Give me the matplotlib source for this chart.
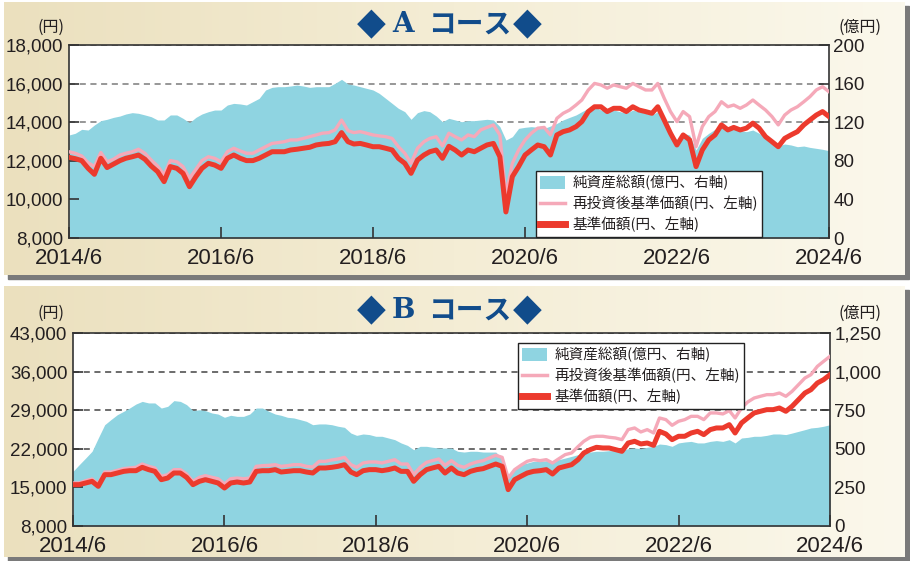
import numpy as np
import pandas as pd
import matplotlib
matplotlib.use('Agg')
import matplotlib.pyplot as plt
from matplotlib.patches import Rectangle, Patch
from matplotlib.lines import Line2D
from matplotlib.colors import LinearSegmentedColormap
from matplotlib.font_manager import FontProperties
from matplotlib import font_manager as fm

W, H = 910, 561

# ---------------- data ----------------
dates = pd.date_range('2014-06-01', '2024-06-01', freq='MS')
xtick_dates = ['2014-06-01', '2016-06-01', '2018-06-01', '2020-06-01', '2022-06-01', '2024-06-01']
xtick_labels = ['2014/6', '2016/6', '2018/6', '2020/6', '2022/6', '2024/6']

a_price = [12180, 12110, 12010, 11610, 11300, 12130, 11650, 11830, 12010, 12130,
           12210, 12300, 12080, 11730, 11440, 10920, 11700, 11610, 11350, 10660,
           11180, 11610, 11870, 11780, 11610, 12130, 12300, 12130, 12010, 12010,
           12130, 12300, 12470, 12470, 12470, 12560, 12600, 12650, 12700, 12820,
           12870, 12900, 12990, 13460, 12990, 12870, 12900, 12820, 12730, 12730,
           12650, 12560, 12130, 11870, 11350, 12040, 12300, 12470, 12560, 12130,
           12750, 12560, 12300, 12560, 12470, 12650, 12820, 12900, 12210, 9350,
           11180, 11700, 12300, 12560, 12820, 12730, 12300, 13340, 13510, 13600,
           13770, 14030, 14550, 14800, 14800, 14550, 14720, 14720, 14550, 14800,
           14630, 14550, 14460, 14800, 14110, 13430, 12820, 13340, 13080, 11700,
           12560, 13080, 13340, 13860, 13600, 13730, 13600, 13690, 13950, 13690,
           13250, 12990, 12730, 13160, 13340, 13510, 13860, 14110, 14370, 14550,
           14290]
a_reinv = [12470, 12390, 12250, 11900, 11700, 12430, 11950, 12080, 12300, 12390,
           12470, 12600, 12390, 12040, 11730, 11270, 12010, 11950, 11700, 11090,
           11560, 12010, 12210, 12130, 11950, 12470, 12650, 12510, 12390, 12390,
           12560, 12730, 12900, 12940, 12990, 13080, 13080, 13160, 13250, 13340,
           13430, 13460, 13600, 14110, 13560, 13460, 13510, 13430, 13340, 13290,
           13250, 13160, 12730, 12390, 11870, 12650, 12990, 13160, 13250, 12770,
           13430, 13250, 13080, 13340, 13250, 13600, 13730, 13860, 13340, 10200,
           11870, 12560, 13080, 13430, 13690, 13730, 13340, 14200, 14460, 14630,
           14890, 15150, 15670, 16010, 15930, 15760, 15930, 15840, 15760, 16010,
           15840, 15670, 15670, 16010, 15240, 14550, 14030, 14550, 14290, 12730,
           13770, 14290, 14550, 15060, 14800, 14890, 14720, 14890, 15150, 14890,
           14630, 14290, 13860, 14370, 14630, 14800, 15060, 15320, 15670, 15840,
           15580]
a_nav = [106.7, 108.5, 112.6, 111.9, 117.1, 121.6, 123, 125, 126.4, 128.5,
         129.9, 129.2, 127.5, 125.7, 122.3, 122.3, 127.5, 127.5, 124, 119.5,
         125, 128.5, 130.9, 132.6, 132.6, 137.8, 139.5, 138.9, 137.8, 141.3,
         144.7, 153.4, 156.1, 156.8, 156.8, 157.5, 158.5, 157.5, 156.1, 156.8,
         156.8, 156.8, 160.3, 164.4, 159.6, 158.5, 156.8, 155.1, 153.4, 149.9,
         144.7, 139.5, 134.4, 130.9, 123, 129.9, 132, 130.9, 126.4, 120.5,
         124, 122.3, 120.5, 121.6, 121.6, 122.3, 123, 122.3, 115.4, 101.5,
         105, 113.6, 114.7, 115.4, 114.7, 113.6, 116, 118.8, 122.3, 125,
         127.5, 130.9, 134.4, 136.1, 132.6, 130.9, 132.6, 130.9, 129.2, 132.6,
         130.9, 129.2, 127.5, 130.9, 120.5, 110.2, 101.5, 108.5, 106.7, 91.2,
         103.3, 108.5, 112.6, 117.1, 114.7, 113.6, 111.2, 110.2, 111.9, 108.5,
         105, 99.8, 95.3, 97.4, 96.4, 94.6, 95.3, 93.9, 92.9, 91.9,
         90.5]

b_price = [15500, 15500, 15800, 16100, 15190, 17310, 17310, 17610, 17910, 18030,
           18030, 18640, 18220, 17910, 16400, 16700, 17610, 17610, 16830, 15500,
           16100, 16400, 16100, 15800, 14890, 15800, 15980, 15800, 15980, 17910,
           18030, 18030, 18220, 17790, 17910, 18030, 18030, 17790, 17610, 18520,
           18520, 18640, 18820, 19120, 17790, 17310, 18030, 18220, 18220, 18030,
           18220, 18520, 17910, 17910, 16100, 17310, 18220, 18520, 18820, 17610,
           18520, 17610, 17310, 17910, 18220, 18400, 18820, 19240, 18820, 14590,
           16400, 17010, 17610, 17910, 18030, 18220, 17430, 18520, 18820, 19120,
           20030, 21240, 21850, 22270, 22150, 22150, 21850, 21540, 23050, 23360,
           22880, 23050, 22630, 25170, 24690, 23660, 24270, 24270, 24870, 25170,
           24570, 25480, 25780, 25780, 26380, 24870, 26690, 27590, 28500, 28800,
           29100, 29100, 29400, 28800, 29710, 30910, 32120, 32720, 33930, 34540,
           35440]
b_reinv = [15800, 15800, 16220, 16520, 15620, 17790, 17790, 18090, 18400, 18520,
           18640, 19240, 18820, 18520, 17010, 17310, 18220, 18220, 17430, 16100,
           16830, 17130, 16830, 16580, 15620, 16580, 16700, 16580, 16700, 18820,
           18940, 19000, 19120, 18820, 18940, 19120, 19120, 18820, 18700, 19730,
           19730, 19970, 20150, 20450, 19120, 18640, 19430, 19610, 19610, 19430,
           19730, 20030, 19240, 19240, 17310, 18640, 19550, 19850, 20150, 19000,
           19850, 19000, 18640, 19240, 19610, 19850, 20330, 20820, 20450, 16700,
           18220, 19000, 19730, 20030, 19850, 20030, 19430, 20210, 20940, 21240,
           22390, 23360, 24090, 24270, 24270, 24090, 23960, 23660, 25480, 25780,
           25050, 25480, 24870, 27590, 27290, 26260, 26990, 27290, 27890, 27890,
           27290, 28500, 28500, 28320, 28920, 27590, 29400, 30490, 31210, 31520,
           31820, 31820, 32120, 31520, 32420, 33630, 34840, 35440, 36950, 37860,
           38770]
b_nav = [354, 397, 440, 484, 570, 656, 689, 721, 743, 764,
         790, 807, 797, 797, 764, 775, 812, 807, 786, 747,
         753, 747, 732, 725, 704, 717, 710, 710, 725, 764,
         764, 743, 725, 717, 704, 700, 689, 678, 656, 661,
         661, 656, 646, 639, 602, 587, 596, 592, 581, 581,
         570, 559, 538, 522, 494, 516, 516, 510, 505, 505,
         505, 484, 479, 484, 484, 479, 479, 479, 440, 332,
         365, 397, 408, 419, 419, 423, 419, 430, 440, 451,
         462, 473, 479, 484, 484, 488, 488, 488, 501, 505,
         501, 510, 516, 531, 527, 516, 538, 544, 548, 538,
         538, 548, 553, 548, 559, 538, 570, 574, 581, 581,
         587, 596, 596, 592, 602, 613, 624, 635, 639, 646,
         656]

a_left_ticks = [8000, 10000, 12000, 14000, 16000, 18000]
a_left_labels = ['8,000', '10,000', '12,000', '14,000', '16,000', '18,000']
a_right_ticks = [0, 40, 80, 120, 160, 200]
a_right_labels = ['0', '40', '80', '120', '160', '200']
b_left_ticks = [8000, 15000, 22000, 29000, 36000, 43000]
b_left_labels = ['8,000', '15,000', '22,000', '29,000', '36,000', '43,000']
b_right_ticks = [0, 250, 500, 750, 1000, 1250]
b_right_labels = ['0', '250', '500', '750', '1,000', '1,250']

legend_labels = ['純資産総額(億円、右軸)', '再投資後基準価額(円、左軸)', '基準価額(円、左軸)']

# ---------------- style ----------------
C_FILL = '#8FD4E1'
C_PINK = '#F5A9B9'
C_RED = '#EC3A2D'
C_TITLE = '#114C8B'
C_TEXT = '#231F20'

names = {f.name for f in fm.fontManager.ttflist}
if 'Liberation Sans Narrow' in names:
    YFONT = FontProperties(family='Liberation Sans Narrow', size=16.5)
else:
    YFONT = FontProperties(family='Liberation Sans', size=13.5)
XFONT = FontProperties(family='Liberation Sans', size=16)
JP = 'Noto Sans CJK JP'

fig = plt.figure(figsize=(W / 100, H / 100), dpi=100)
fig.patch.set_facecolor('white')


def P(x, y):
    return x / W, 1 - y / H


# background frames
bg = fig.add_axes([0, 0, 1, 1], zorder=-10)
cmap = LinearSegmentedColormap.from_list('bg', ['#EBE0BE', '#F4EDD5', '#FBF8EC'])
grad = np.linspace(0, 1, 256)[None, :]
for (x0, y0, x1, y1) in [(4, 2, 905, 275), (4, 286, 905, 557)]:
    bg.add_patch(Rectangle((x0 + 4, y0 + 4), x1 - x0, y1 - y0, color='#7a7a7a', zorder=0))
    bg.imshow(grad, extent=(x0, x1, y1, y0), cmap=cmap, aspect='auto', zorder=1)
bg.set_xlim(0, W)
bg.set_ylim(H, 0)
bg.axis('off')


def panel(px, price, reinv, nav, lticks, llabels, rticks, rlabels, grid_color,
          leg_xy, title_y, letter):
    x0, y0, x1, y1 = px
    ax = fig.add_axes([x0 / W, 1 - y1 / H, (x1 - x0) / W, (y1 - y0) / H])
    ax2 = ax.twinx()
    ax.set_zorder(3)
    ax2.set_zorder(2)
    ax.patch.set_visible(False)
    ax2.patch.set_visible(True)
    ax2.patch.set_facecolor('white')

    ax2.fill_between(dates, nav, 0, color=C_FILL, lw=0, zorder=1)
    ax2.set_ylim(rticks[0], rticks[-1])
    ax2.set_yticks(rticks)
    ax2.set_yticklabels(rlabels, fontproperties=YFONT, color=C_TEXT)
    ax2.set_axisbelow(True)
    ax2.yaxis.grid(True, linestyle=(0, (4, 3)), color=grid_color, lw=1.1)
    ax2.tick_params(axis='y', direction='in', length=7, width=1.2, color='#333', pad=3)
    for s in ax2.spines.values():
        s.set_visible(False)

    ax.plot(dates, reinv, color=C_PINK, lw=2.4, zorder=3)
    ax.plot(dates, price, color=C_RED, lw=3.6, zorder=4, solid_joinstyle='round')
    ax.set_xlim(dates[0], dates[-1])
    ax.set_ylim(lticks[0], lticks[-1])
    ax.set_yticks(lticks)
    ax.set_yticklabels(llabels, fontproperties=YFONT, color=C_TEXT)
    ax.set_xticks(pd.to_datetime(xtick_dates))
    ax.set_xticklabels(xtick_labels, fontproperties=XFONT, color=C_TEXT)
    ax.tick_params(axis='y', direction='in', length=7, width=1.2, color='#333', pad=4)
    ax.tick_params(axis='x', direction='in', length=8, width=1.2, color='#333', pad=7)
    for s in ax.spines.values():
        s.set_color('#333')
        s.set_linewidth(1.2)

    handles = [Patch(facecolor=C_FILL, edgecolor='none'),
               Line2D([], [], color=C_PINK, lw=2.5),
               Line2D([], [], color=C_RED, lw=5)]
    leg = ax.legend(handles, legend_labels, loc='upper left',
                    bbox_to_anchor=P(*leg_xy), bbox_transform=fig.transFigure,
                    frameon=True, fancybox=False, edgecolor='#222', framealpha=1,
                    borderpad=0.3, labelspacing=0.38, handlelength=1.7,
                    handleheight=1.0, handletextpad=0.5, borderaxespad=0,
                    prop=FontProperties(family=JP, size=10.5))
    leg.get_frame().set_linewidth(1.0)
    for t in leg.get_texts():
        t.set_color(C_TEXT)

    # title pieces
    fig.text(*P(371, title_y), '◆', ha='center', va='center', color=C_TITLE,
             fontsize=27, family='DejaVu Sans')
    fig.text(*P(403, title_y + 1), letter, ha='center', va='center', color=C_TITLE,
             fontsize=20, family='DejaVu Serif', fontweight='bold')
    fig.text(*P(470, title_y + 1), 'コース', ha='center', va='center', color=C_TITLE,
             fontsize=20, family=JP, fontweight='bold')
    fig.text(*P(527, title_y), '◆', ha='center', va='center', color=C_TITLE,
             fontsize=27, family='DejaVu Sans')
    # unit labels
    fig.text(*P(51, title_y + 3), '(円)', ha='center', va='center', color=C_TEXT,
             fontsize=11.5, family=JP)
    fig.text(*P(860, title_y + 3), '(億円)', ha='center', va='center', color=C_TEXT,
             fontsize=11.5, family=JP)


panel((69, 45, 829, 238), a_price, a_reinv, a_nav, a_left_ticks, a_left_labels,
      a_right_ticks, a_right_labels, '#7a7a7a', (536, 171), 24, 'A')
panel((73, 333, 830, 526), b_price, b_reinv, b_nav, b_left_ticks, b_left_labels,
      b_right_ticks, b_right_labels, '#444444', (518, 343), 310, 'B')

fig.savefig('out.png', dpi=100, facecolor='white')
